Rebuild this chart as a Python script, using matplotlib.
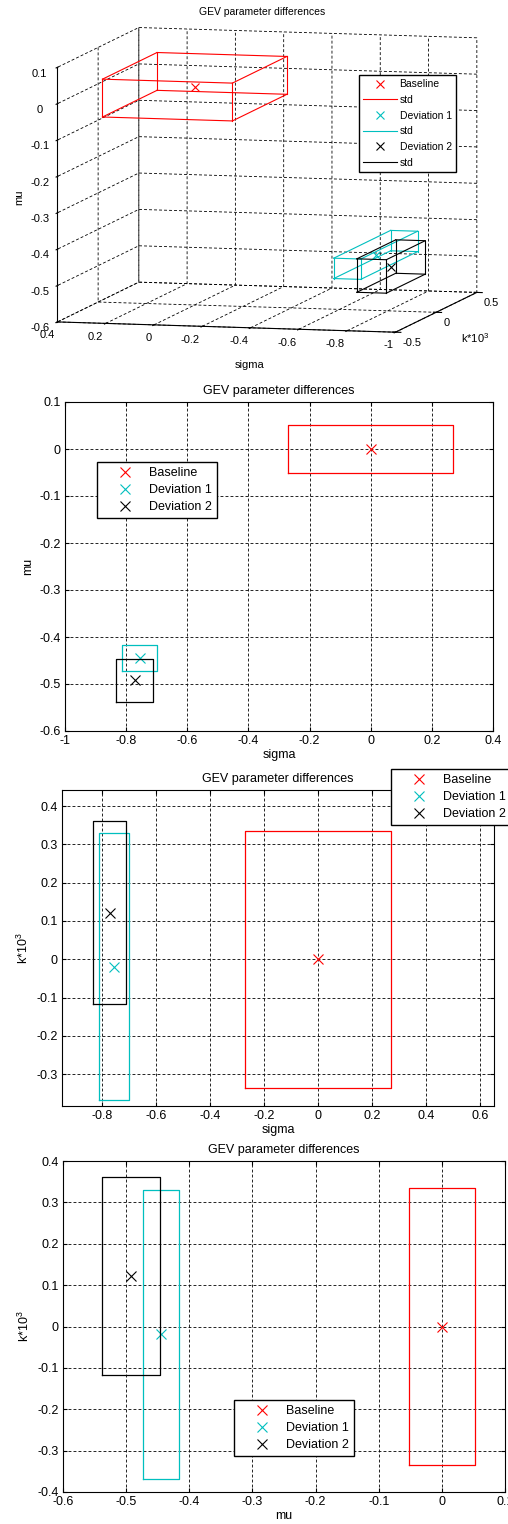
from itertools import product

import numpy as np
import matplotlib
matplotlib.use('Agg')
from matplotlib import pyplot as plt
from matplotlib.ticker import FuncFormatter

plt.rcParams['font.family'] = ['Liberation Sans', 'DejaVu Sans']
plt.rcParams['axes.unicode_minus'] = False
plt.rcParams['mathtext.default'] = 'regular'
plt.rcParams['grid.color'] = 'k'
plt.rcParams['grid.linewidth'] = 0.6
plt.rcParams['grid.linestyle'] = '--'
plt.rcParams['lines.dashed_pattern'] = [3.5, 2.5]
plt.rcParams['legend.numpoints'] = 1

# ---------------------------------------------------------------
# DATA: GEV parameter differences (mean and std per case)
labels = ['Baseline', 'Deviation 1', 'Deviation 2']
colors = ['r', 'c', 'k']
sigma = [0.0, -0.756, -0.772]
mu = [0.0, -0.445, -0.492]
k = [0.0, -0.019, 0.122]
sigma_std = [0.269, 0.056, 0.061]
mu_std = [0.052, 0.028, 0.046]
k_std = [0.335, 0.349, 0.239]

TITLE = 'GEV parameter differences'
KLAB = 'k*10$^3$'
fmt = FuncFormatter(lambda v, p: '%g' % (round(v, 6) + 0.0))

W, H = 508, 1524
fig = plt.figure(figsize=(W / 100, H / 100), dpi=100)


def rect(c1, s1, c2, s2):
    xs = [c1 - s1, c1 + s1, c1 + s1, c1 - s1, c1 - s1]
    ys = [c2 - s2, c2 - s2, c2 + s2, c2 + s2, c2 - s2]
    return xs, ys


def axes_px(l, t, r, b):
    return fig.add_axes([l / W, 1 - b / H, (r - l) / W, (b - t) / H])


#################################################################
# 3D panel
ax = fig.add_axes([8 / W, 1 - 375 / H, 1.0, 380 / H], projection='3d')
ax.set_proj_type('ortho')
ax.view_init(elev=7.0, azim=-76)
ax.set_box_aspect((349, 337, 257), zoom=1.4)

for i in range(3):
    ax.plot([sigma[i]], [k[i]], [mu[i]], 'x', color=colors[i], ms=6,
            mew=0.8, label=labels[i])
    lo = (sigma[i] - sigma_std[i], k[i] - k_std[i], mu[i] - mu_std[i])
    hi = (sigma[i] + sigma_std[i], k[i] + k_std[i], mu[i] + mu_std[i])
    corners = list(product(*zip(lo, hi)))
    first = True
    for a in corners:
        for b in corners:
            if a < b and sum(u != v for u, v in zip(a, b)) == 1:
                ax.plot([a[0], b[0]], [a[1], b[1]], [a[2], b[2]],
                        color=colors[i], lw=0.8,
                        label='std' if first else None)
                first = False

ax.set_xlim(0.4, -1)
ax.set_ylim(-0.5, 0.5)
ax.set_zlim(-0.6, 0.1)
ax.set_xticks(np.round(np.arange(-1, 0.41, 0.2), 2))
ax.set_yticks([-0.5, 0, 0.5])
ax.set_zticks(np.round(np.arange(-0.6, 0.11, 0.1), 2))
for a in (ax.xaxis, ax.yaxis, ax.zaxis):
    a.set_major_formatter(fmt)
    a.pane.fill = False
    a.pane.set_edgecolor('none')
    a.line.set_color('k')
    a.line.set_linewidth(0.8)
    a.set_rotate_label(False)
ax.zaxis.set_ticks_position('lower')
ax.zaxis.set_label_position('lower')
ax.tick_params(labelsize=8)
ax.xaxis.set_tick_params(pad=-4)
ax.yaxis.set_tick_params(pad=-5)
ax.zaxis.set_tick_params(pad=-2)
plt.setp(ax.get_xticklabels(), ha='right')
plt.setp(ax.get_yticklabels(), ha='left')
ax.set_zlabel('mu', fontsize=8, rotation=90, labelpad=-8)
ax.text2D(250 / W, 1 - 365 / H, 'sigma', transform=fig.transFigure,
          fontsize=8, ha='center', va='center')
ax.text2D(475 / W, 1 - 338 / H, KLAB, transform=fig.transFigure,
          fontsize=8, ha='center', va='center')
ax.text2D(0.5, 1 - 17 / 380, TITLE, transform=ax.transAxes, fontsize=7.5,
          ha='center', va='center')
ax.legend(loc='upper left', bbox_to_anchor=(359 / W, 1 - 75 / H),
          bbox_transform=fig.transFigure, fontsize=7.5, fancybox=False,
          edgecolor='k', framealpha=1, handlelength=3.2, handletextpad=0.3,
          borderaxespad=0, labelspacing=0.55, borderpad=0.4)

#################################################################
# 2D panels
panels = [
    dict(box=(65, 402, 493, 731), x=sigma, xs=sigma_std, y=mu, ys=mu_std,
         xlabel='sigma', ylabel='mu', xlim=(-1, 0.4), ylim=(-0.6, 0.1),
         xt=np.arange(-1, 0.41, 0.2), yt=np.arange(-0.6, 0.11, 0.1),
         leg=(0.075, 0.818)),
    dict(box=(62, 790, 494, 1106), x=sigma, xs=sigma_std, y=k, ys=k_std,
         xlabel='sigma', ylabel=KLAB, xlim=(-0.948, 0.651),
         ylim=(-0.383, 0.442),
         xt=np.arange(-0.8, 0.61, 0.2), yt=np.arange(-0.3, 0.41, 0.1),
         leg=(0.762, 1.066)),
    dict(box=(63, 1161, 505, 1492), x=mu, xs=mu_std, y=k, ys=k_std,
         xlabel='mu', ylabel=KLAB, xlim=(-0.6, 0.1), ylim=(-0.4, 0.4),
         xt=np.arange(-0.6, 0.11, 0.1), yt=np.arange(-0.4, 0.41, 0.1),
         leg=(0.387, 0.278)),
]

for p in panels:
    ax = axes_px(*p['box'])
    handles = []
    for i in range(3):
        h, = ax.plot(p['x'][i], p['y'][i], 'x', color=colors[i], ms=7,
                     mew=0.8, label=labels[i])
        handles.append(h)
        xs, ys = rect(p['x'][i], p['xs'][i], p['y'][i], p['ys'][i])
        ax.plot(xs, ys, color=colors[i], lw=0.9)
    ax.set_xlim(p['xlim'])
    ax.set_ylim(p['ylim'])
    ax.set_xticks(np.round(p['xt'], 2))
    ax.set_yticks(np.round(p['yt'], 2))
    ax.xaxis.set_major_formatter(fmt)
    ax.yaxis.set_major_formatter(fmt)
    ax.tick_params(direction='in', length=3, top=True, right=True,
                   labelsize=9, pad=3)
    for s in ax.spines.values():
        s.set_linewidth(0.8)
    ax.grid(True, ls=(0, (3.5, 2.5)), lw=0.6, color='k')
    ax.set_axisbelow(True)
    ax.set_title(TITLE, fontsize=9, pad=6)
    ax.set_xlabel(p['xlabel'], fontsize=9, labelpad=1)
    ax.set_ylabel(p['ylabel'], fontsize=9, labelpad=4)
    ax.legend(handles=handles, loc='upper left', bbox_to_anchor=p['leg'],
              fontsize=9, fancybox=False, edgecolor='k', framealpha=1,
              handlelength=3.6, handletextpad=0.15, borderaxespad=0,
              labelspacing=0.4, borderpad=0.4)

plt.savefig('out.png', dpi=100)
